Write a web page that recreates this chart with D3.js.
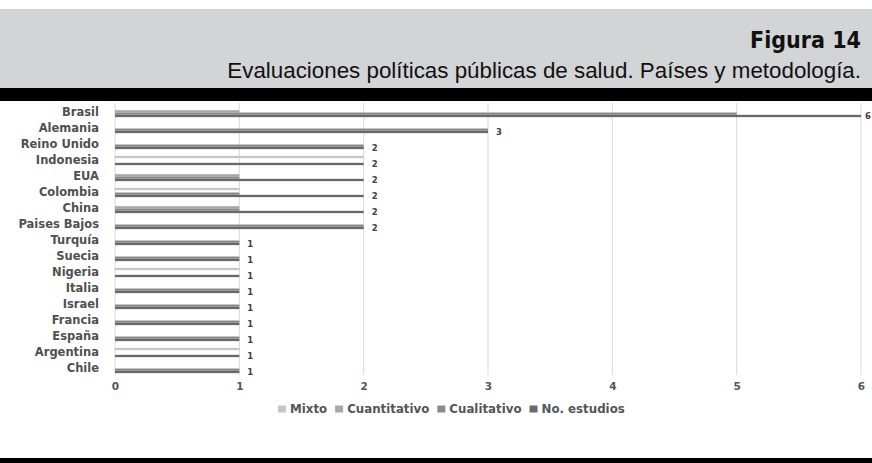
<!DOCTYPE html>
<html><head><meta charset="utf-8">
<script src="https://cdn.jsdelivr.net/npm/d3@7"></script>
<style>body{margin:0;background:#fff;overflow:hidden}svg{display:block}</style>
</head><body>
<svg id="c" width="872" height="463"></svg>
<script>
const countries = ["Brasil","Alemania","Reino Unido","Indonesia","EUA","Colombia ","China","Paises Bajos","Turquía","Suecia ","Nigeria","Italia","Israel","Francia","España","Argentina","Chile"];
const seriesNames = ["Mixto","Cuantitativo","Cualitativo","No. estudios"];
const mixto        = [0,0,0,2,0,1,0,0,0,0,1,0,0,0,0,1,0];
const cuantitativo = [1,0,0,0,1,0,1,0,0,0,0,0,0,0,0,0,0];
const cualitativo  = [5,3,2,0,1,1,1,2,1,1,0,1,1,1,1,0,1];
const noEstudios   = [6,3,2,2,2,2,2,2,1,1,1,1,1,1,1,1,1];
const xTicks = [0,1,2,3,4,5,6];
const colors = ["#c6c6c6","#a8a8a8","#8b8b8b","#696969"];

const svg = d3.select("#c");
// header
svg.append("rect").attr("x",0).attr("y",9).attr("width",872).attr("height",79).attr("fill","#d3d4d6");
svg.append("rect").attr("x",0).attr("y",88).attr("width",872).attr("height",13).attr("fill","#000");
svg.append("rect").attr("x",0).attr("y",458).attr("width",872).attr("height",5).attr("fill","#000");
svg.append("text").attr("x",861).attr("y",48).attr("text-anchor","end")
  .style("font-family","'DejaVu Sans Condensed','DejaVu Sans'").style("font-weight","bold").style("font-size","23px").attr("fill","#111")
  .text("Figura 14");
const sub = svg.append("text").attr("x",0).attr("y",0).attr("text-anchor","end")
  .style("font-family","'Liberation Sans Narrow','Liberation Sans'").style("font-size","22px").attr("fill","#111")
  .text("Evaluaciones políticas públicas de salud. Países y metodología.");
const natW = sub.node().getComputedTextLength();
const sx = 634 / natW;
sub.attr("transform",`translate(861,78) scale(${sx},1)`);

const plotTop = 103, plotBottom = 375;
const x = d3.scaleLinear().domain([0,6]).range([115,861]);
const y = d3.scaleBand().domain(countries).range([plotTop+1.5,plotBottom+1.5]).paddingInner(0.42).paddingOuter(0.21);
const ys = d3.scaleBand().domain(seriesNames).range([0,y.bandwidth()]);
const values = [mixto,cuantitativo,cualitativo,noEstudios];

// grid
svg.append("g").selectAll("line").data(xTicks).join("line")
  .attr("x1",d=>x(d)).attr("x2",d=>x(d)).attr("y1",plotTop).attr("y2",plotBottom)
  .attr("stroke","#d9d9d9").attr("stroke-width",1);

// bars
seriesNames.forEach((s,si)=>{
  svg.append("g").selectAll("rect").data(countries).join("rect")
    .attr("x",x(0)).attr("y",c=>y(c)+ys(s))
    .attr("width",(c,i)=>x(values[si][i])-x(0)).attr("height",ys.bandwidth())
    .attr("fill",colors[si]);
});

// value labels
svg.append("g").selectAll("text").data(countries).join("text")
  .attr("x",(c,i)=>Math.min(x(noEstudios[i])+8, 865)).attr("y",c=>y(c)+ys("No. estudios")+ys.bandwidth()/2)
  .attr("dy","0.35em")
  .style("font-family","'DejaVu Sans'").style("font-weight","bold").style("font-size","8.5px").attr("fill","#404040")
  .text((c,i)=>noEstudios[i]);

// category axis
svg.append("g").selectAll("text").data(countries).join("text")
  .attr("x",99).attr("y",c=>y(c)+y.bandwidth()/2-0.5).attr("dy","0.35em").attr("text-anchor","end")
  .style("font-family","'DejaVu Sans'").style("font-weight","bold").style("font-size","11.5px").attr("fill","#505050")
  .text(c=>c);

// x axis labels
const xa = svg.append("g").attr("transform",`translate(0,${plotBottom})`)
  .call(d3.axisBottom(x).tickValues(xTicks).tickSize(0).tickPadding(8).tickFormat(d3.format("d")));
xa.select(".domain").remove();
xa.selectAll("text").style("font-family","'DejaVu Sans'").style("font-weight","bold").style("font-size","10.5px").attr("fill","#555");

// legend (sequential layout)
const lg = svg.append("g").attr("transform","translate(278,409)");
let cx = 0;
seriesNames.forEach((s,i)=>{
  const g = lg.append("g").attr("transform",`translate(${cx},0)`);
  g.append("rect").attr("x",0).attr("y",-3.5).attr("width",8).attr("height",7).attr("fill",colors[i]);
  const t = g.append("text").attr("x",12).attr("dy","0.35em")
    .style("font-family","'DejaVu Sans'").style("font-weight","bold").style("font-size","11.8px").attr("fill","#555")
    .text(s);
  cx += 12 + t.node().getComputedTextLength() + 8;
});
</script>
</body></html>
